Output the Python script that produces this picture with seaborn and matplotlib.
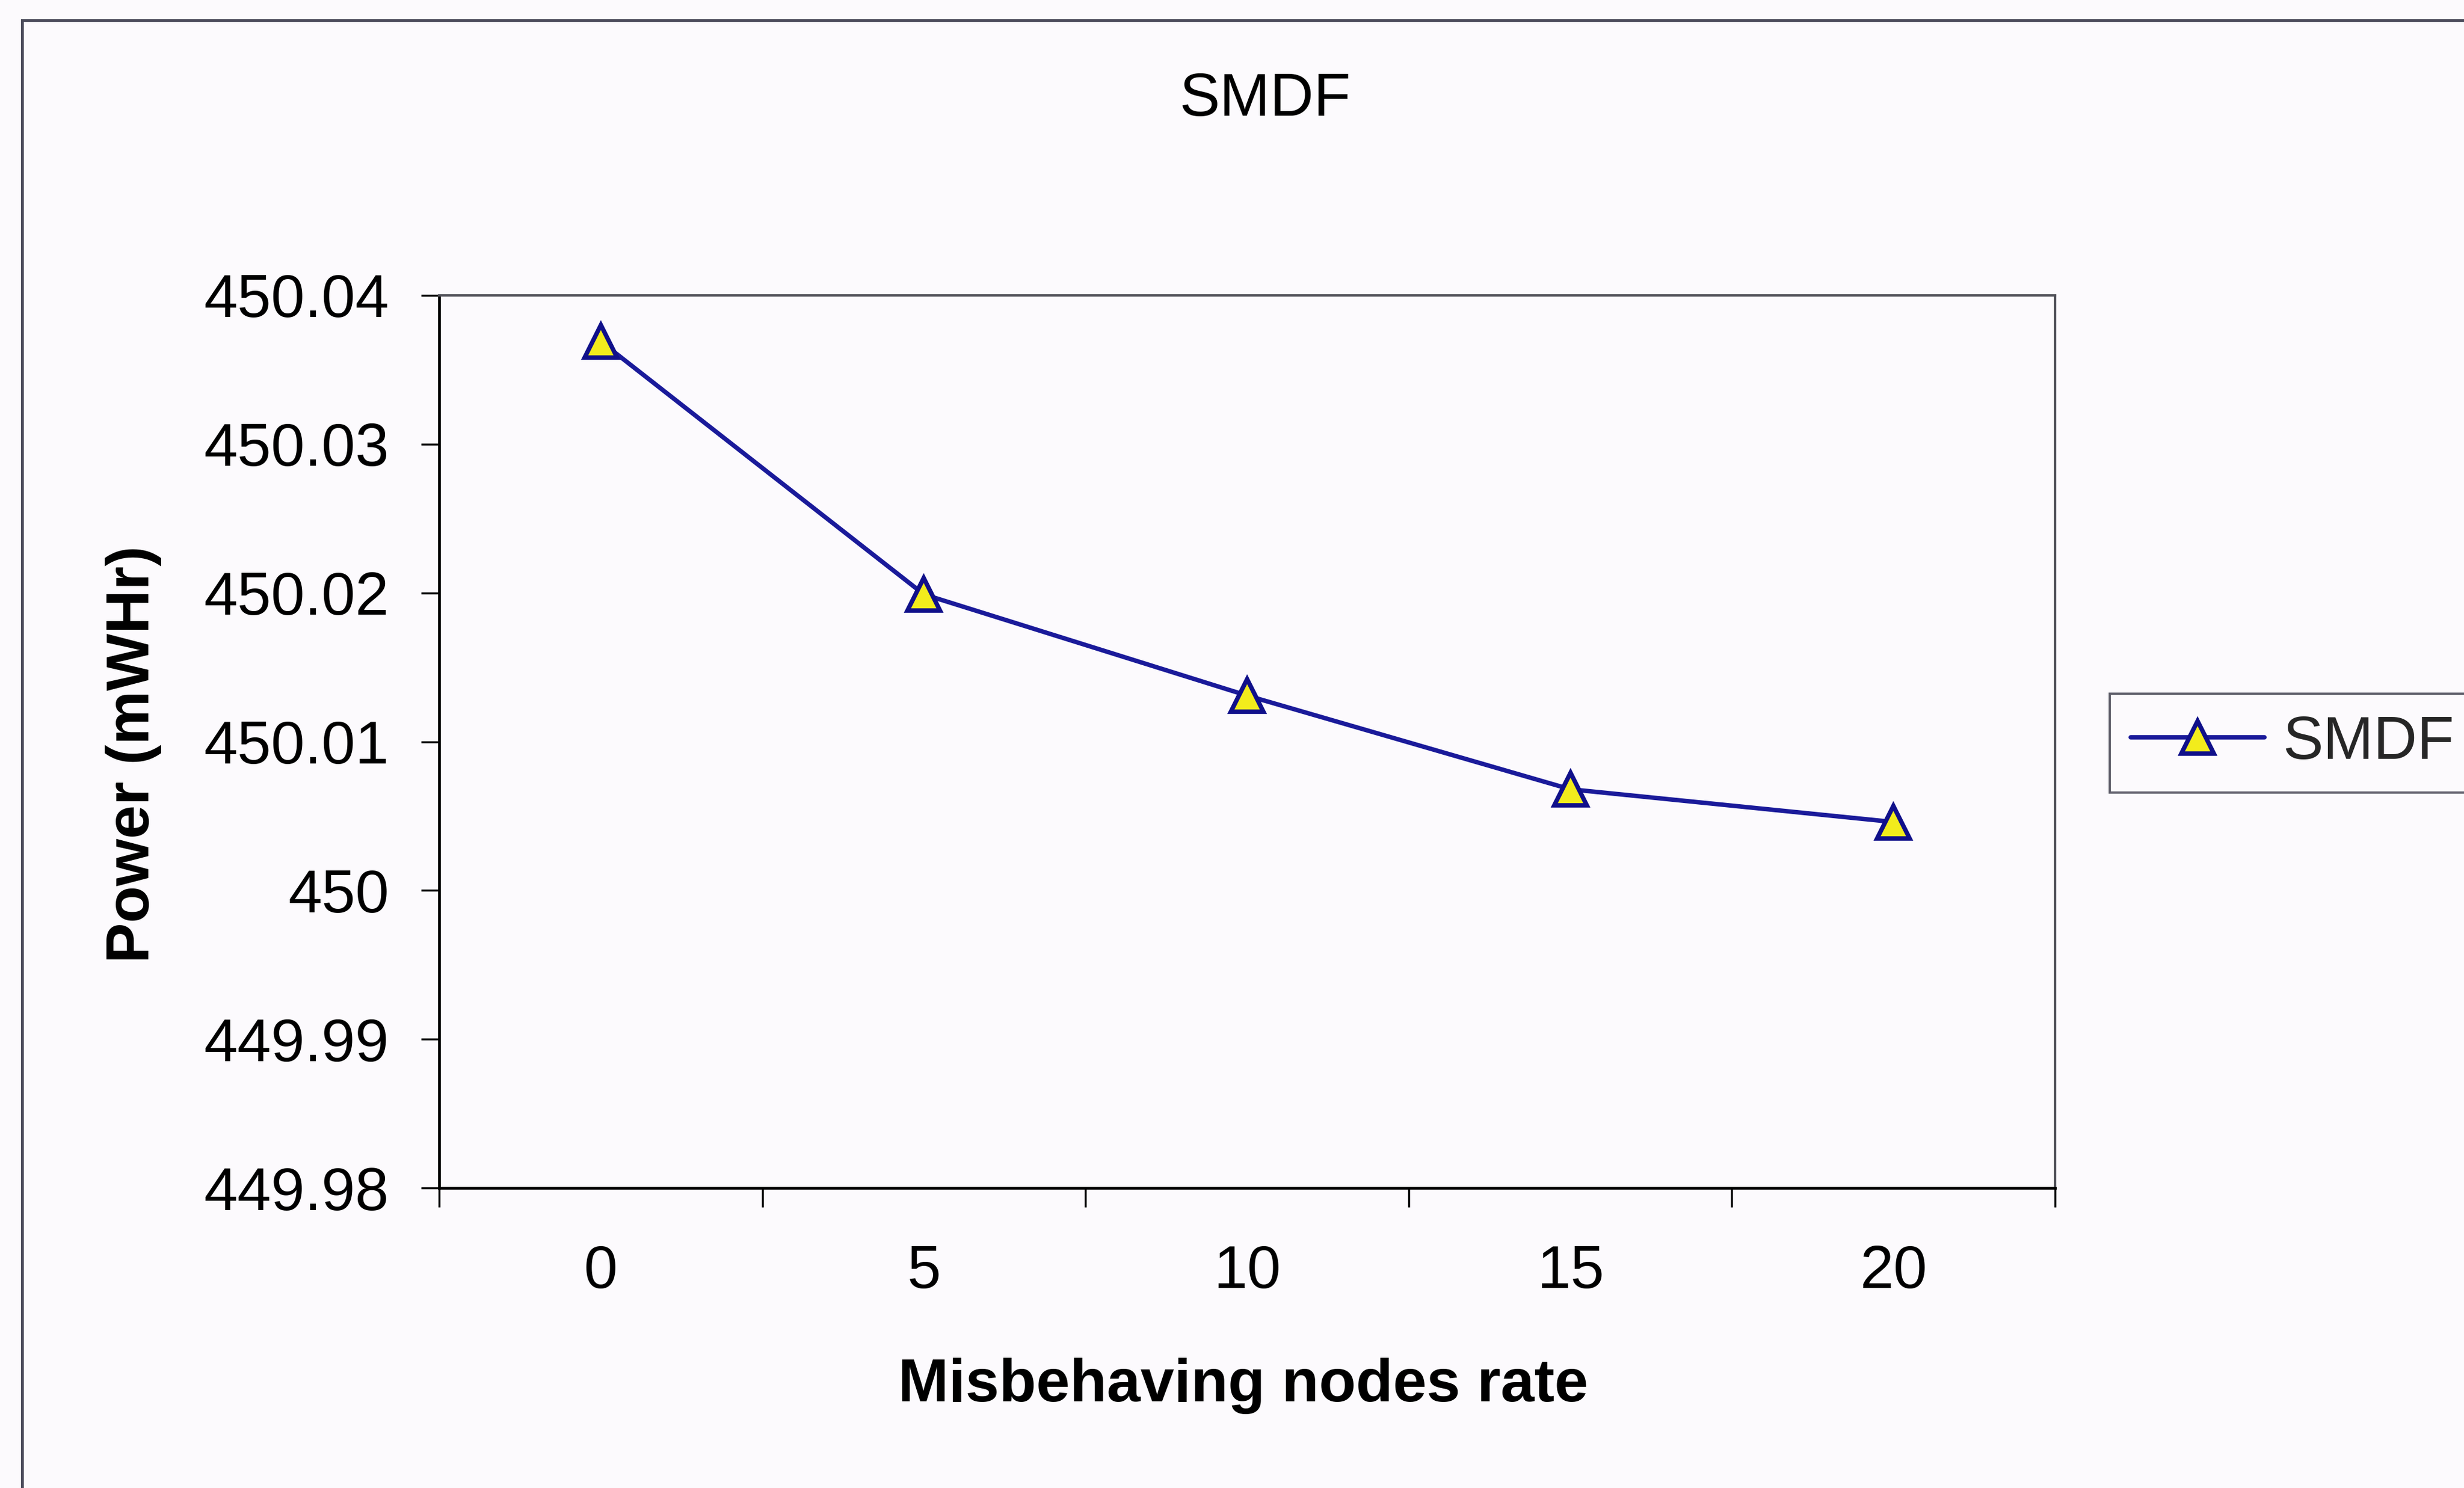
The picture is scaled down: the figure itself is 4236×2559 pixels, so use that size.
import numpy as np
import pandas as pd
import matplotlib
matplotlib.use("Agg")
import matplotlib.pyplot as plt
import seaborn as sns
from matplotlib.lines import Line2D
from matplotlib.patches import Rectangle

# ---- data ----
categories = ["0", "5", "10", "15", "20"]
smdf_power = [450.0369, 450.0199, 450.0131, 450.0068, 450.0046]
y_ticks = [449.98, 449.99, 450.00, 450.01, 450.02, 450.03, 450.04]
y_tick_labels = ["449.98", "449.99", "450", "450.01", "450.02", "450.03", "450.04"]
series_name = "SMDF"
title_text = "SMDF"
x_label = "Misbehaving nodes rate"
y_label = "Power (mWHr)"

df = pd.DataFrame({"rate": categories, "power": smdf_power})

sns.set_theme(style="white")
plt.rcParams["font.family"] = ["Liberation Sans", "DejaVu Sans"]

bg = "#fcfafd"
fig = plt.figure(figsize=(42.36, 25.59), dpi=100, facecolor=bg)
ax = fig.add_axes([755 / 4236, 1 - 2043 / 2559, (3533 - 755) / 4236, (2043 - 508) / 2559])
ax.set_facecolor(bg)

line_color = "#1a1a9a"
mk = dict(marker="^", markersize=40, markerfacecolor="#f2ec1c",
          markeredgecolor="#10108a", markeredgewidth=5.5)
sns.lineplot(data=df, x="rate", y="power", ax=ax, color=line_color, linewidth=5.5,
             sort=False, legend=False, **mk)

ax.set_xlim(-0.5, len(categories) - 0.5)
ax.set_ylim(y_ticks[0], y_ticks[-1])
ax.set_yticks(y_ticks)
ax.set_yticklabels(y_tick_labels)
ax.set_xticks(range(len(categories)))
ax.set_xticklabels(categories)
ax.set_xticks(np.arange(-0.5, len(categories), 1.0), minor=True)

ax.tick_params(axis="y", which="major", direction="out", length=22, width=2.5,
               color="black", labelsize=75, pad=40, left=True)
ax.tick_params(axis="x", which="major", length=0, labelsize=75, pad=70, bottom=True)
ax.tick_params(axis="x", which="minor", direction="out", length=24, width=2.5,
               color="black", bottom=True)
for lab in ax.get_xticklabels() + ax.get_yticklabels():
    lab.set_color("black")

ax.set_xlabel("")
ax.set_ylabel("")
for side in ["left", "bottom"]:
    ax.spines[side].set_color("black")
    ax.spines[side].set_linewidth(3.4)
for side in ["top", "right"]:
    ax.spines[side].set_color("#505058")
    ax.spines[side].set_linewidth(3.0)
ax.grid(False)

# titles / labels
fig.text(2175 / 4236, 1 - 172 / 2559, title_text, ha="center", va="center",
         fontsize=75, color="black")
fig.text(2137 / 4236, 1 - 2383 / 2559, x_label, ha="center", va="center",
         fontsize=75, fontweight="bold", color="black")
fig.text(230 / 4236, 1 - 1297 / 2559, y_label, ha="center", va="center",
         rotation=90, fontsize=75, fontweight="bold", color="black")

# outer chart border (right/bottom fall outside the picture)
fig.patches.append(Rectangle((38 / 4236, -0.05), 1.2, 1 - 35 / 2559 + 0.05,
                             transform=fig.transFigure, fill=False,
                             edgecolor="#4a4a5a", linewidth=3.5, zorder=0))

# legend
handle = Line2D([], [], color=line_color, linewidth=5.5, **mk)
leg = fig.legend([handle], [series_name], loc="center left",
                 bbox_to_anchor=(3627 / 4236, 1 - 1278 / 2559), fontsize=75,
                 frameon=True, fancybox=False, handlelength=2.2, handletextpad=0.3,
                 borderpad=0.35, borderaxespad=0)
leg.get_frame().set_edgecolor("#3a3a48")
leg.get_frame().set_linewidth(2.8)
leg.get_frame().set_facecolor(bg)

fig.savefig("out.png", dpi=100, facecolor=bg)
